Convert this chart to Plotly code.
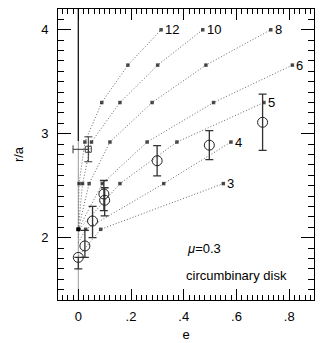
import plotly.graph_objects as go

# ---- data ----
curve_labels = ["12", "10", "8", "6", "5", "4", "3"]
curve_e = [
    [0.000, 0.003, 0.025, 0.089, 0.188, 0.314],
    [0.000, 0.016, 0.050, 0.158, 0.301, 0.472],
    [0.000, 0.041, 0.120, 0.280, 0.484, 0.730],
    [0.000, 0.091, 0.261, 0.513, 0.812],
    [0.000, 0.003, 0.158, 0.374, 0.704],
    [0.000, 0.028, 0.324, 0.579],
    [0.000, 0.085, 0.550],
]
curve_r = [
    [2.08, 2.52, 2.92, 3.30, 3.66, 4.00],
    [2.08, 2.52, 2.92, 3.30, 3.66, 4.00],
    [2.08, 2.52, 2.92, 3.30, 3.66, 4.00],
    [2.08, 2.52, 2.92, 3.30, 3.66],
    [2.00, 2.08, 2.52, 2.92, 3.30],
    [1.95, 2.08, 2.52, 2.92],
    [1.82, 2.08, 2.52],
]
curve_marked = [
    [1, 1, 1, 1, 1, 1],
    [1, 1, 1, 1, 1, 1],
    [1, 1, 1, 1, 1, 1],
    [1, 1, 1, 1, 1],
    [0, 1, 1, 1, 1],
    [0, 1, 1, 1],
    [0, 1, 1],
]

# simulation points (open circles) with error bars
sim_e = [0.000, 0.025, 0.054, 0.097, 0.100, 0.299, 0.497, 0.699]
sim_r = [1.81, 1.92, 2.16, 2.42, 2.36, 2.74, 2.89, 3.11]
sim_err_up = [0.00, 0.15, 0.14, 0.13, 0.12, 0.145, 0.14, 0.27]
sim_err_dn = [0.11, 0.11, 0.16, 0.16, 0.15, 0.145, 0.14, 0.27]

# square point with error bars
sq_e = [0.038]
sq_r = [2.85]
sq_err_x_dn = [0.058]
sq_err_y = [0.12]

# vertical line at e = 0
vline_r_low = [1.40, 2.93]
vline_r_high = [2.93, 4.20]

x_tickvals = [0, 0.2, 0.4, 0.6, 0.8]
x_ticktext = ["0", ".2", ".4", ".6", ".8"]
y_tickvals = [2, 3, 4]
y_ticktext = ["2", "3", "4"]

FONT = "Liberation Sans, Arial, sans-serif"

fig = go.Figure()

fig.add_trace(go.Scatter(x=[0, 0], y=vline_r_low, mode="lines",
                         line=dict(color="#999999", width=1), showlegend=False))
fig.add_trace(go.Scatter(x=[0, 0], y=vline_r_high, mode="lines",
                         line=dict(color="black", width=1.2), showlegend=False))

for lab, es, rs, mk in zip(curve_labels, curve_e, curve_r, curve_marked):
    fig.add_trace(go.Scatter(
        x=es, y=rs, mode="lines+markers",
        line=dict(color="#666666", width=1, dash="1px,2px"),
        marker=dict(symbol="square", size=[3.5 if m else 0 for m in mk], color="black",
                    line=dict(width=0)),
        showlegend=False))
    fig.add_annotation(x=es[-1], y=rs[-1], text=lab, showarrow=False,
                       xanchor="left", yanchor="middle", xshift=2,
                       font=dict(family=FONT, size=13, color="black"))

fig.add_trace(go.Scatter(
    x=sim_e, y=sim_r, mode="markers",
    marker=dict(symbol="circle-open", size=10, color="#222222", line=dict(width=1)),
    error_y=dict(type="data", symmetric=False, array=sim_err_up, arrayminus=sim_err_dn,
                 color="#333333", thickness=1.3, width=4),
    showlegend=False))

fig.add_trace(go.Scatter(
    x=sq_e, y=sq_r, mode="markers",
    marker=dict(symbol="square-open", size=6, color="#444444", line=dict(width=1)),
    error_y=dict(type="data", array=sq_err_y, color="#333333", thickness=1, width=4),
    error_x=dict(type="data", symmetric=False, array=[0], arrayminus=sq_err_x_dn,
                 color="#333333", thickness=1, width=4),
    showlegend=False))

fig.add_annotation(x=0.475, y=1.90, xref="x", yref="y", text="<i>μ</i>=0.3", showarrow=False,
                   xanchor="center", yanchor="middle",
                   font=dict(family=FONT, size=13, color="black"))
fig.add_annotation(x=0.40, y=1.64, xref="x", yref="y", text="circumbinary disk",
                   showarrow=False, xanchor="left", yanchor="middle",
                   font=dict(family=FONT, size=13, color="black"))

fig.update_xaxes(range=[-0.077, 0.894], tickvals=x_tickvals, ticktext=x_ticktext,
                 ticks="inside", ticklen=11, tickcolor="black", showline=True,
                 linecolor="black", linewidth=1, mirror="ticks", showgrid=False,
                 zeroline=False, ticklabelstandoff=4, automargin=False,
                 minor=dict(dtick=0.02, tick0=0, ticks="inside", ticklen=5,
                            tickcolor="black", showgrid=False),
                 title=dict(text="e", font=dict(family=FONT, size=13, color="black"),
                            standoff=7),
                 tickfont=dict(family=FONT, size=13, color="black"))
fig.update_yaxes(range=[1.4, 4.2], tickvals=y_tickvals, ticktext=y_ticktext,
                 ticks="inside", ticklen=13, tickcolor="black", showline=True,
                 linecolor="black", linewidth=1, mirror="ticks", showgrid=False,
                 zeroline=False, ticklabelstandoff=6, automargin=False,
                 minor=dict(dtick=0.1, tick0=0, ticks="inside", ticklen=6,
                            tickcolor="black", showgrid=False),
                 title=dict(text="r/a", font=dict(family=FONT, size=13, color="black"),
                            standoff=14),
                 tickfont=dict(family=FONT, size=13, color="black"))

fig.update_layout(width=327, height=343, margin=dict(l=58, r=13, t=9, b=43),
                  plot_bgcolor="white", paper_bgcolor="white",
                  font=dict(family=FONT, size=13, color="black"))

fig.write_html("out.html", config={"displayModeBar": False},
               post_script="document.body.style.margin='0';document.body.style.overflow='hidden';")
